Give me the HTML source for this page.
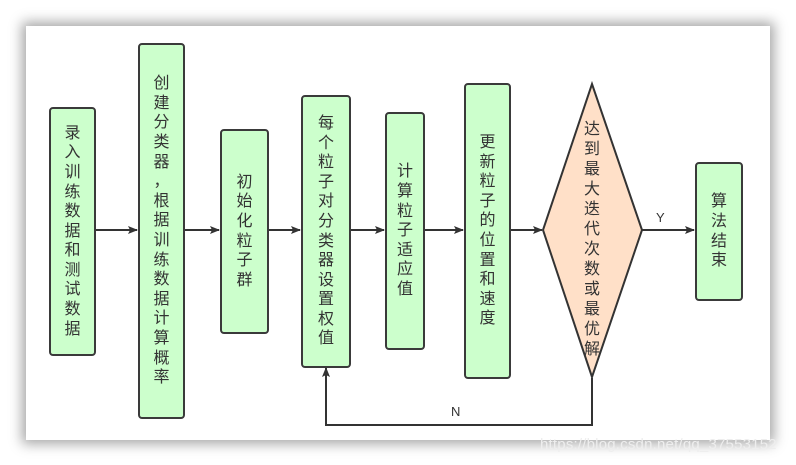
<!DOCTYPE html>
<html><head><meta charset="utf-8"><style>
html,body{margin:0;padding:0;background:#fff;}
body{width:796px;height:465px;position:relative;overflow:hidden;font-family:"Liberation Sans","Noto Sans CJK SC",sans-serif;}
.card{position:absolute;left:26px;top:26px;width:744px;height:414px;background:#fff;box-shadow:0 0 12px 4px rgba(0,0,0,0.35);}
.b{position:absolute;background:#ccffcc;border:2px solid #3a3a3a;border-radius:4px;box-sizing:border-box;display:flex;align-items:center;justify-content:center;}
.t{width:18px;font-size:16px;line-height:19.6px;color:#333;text-align:center;word-break:break-all;line-break:anywhere;}
svg{position:absolute;left:0;top:0;}
.wm{position:absolute;left:540px;top:436px;font-size:15px;color:#eee;letter-spacing:0.2px;}
</style></head><body>
<div class="card"></div>
<svg width="796" height="465">
<defs><marker id="a" markerWidth="10" markerHeight="8" refX="9" refY="4" orient="auto" markerUnits="userSpaceOnUse"><path d="M0,0 L10,4 L0,8 L2,4z" fill="#333"/></marker></defs>
<g stroke="#333" stroke-width="2" fill="none">
<line x1="95" y1="230" x2="137" y2="230" marker-end="url(#a)"/>
<line x1="185" y1="230" x2="219" y2="230" marker-end="url(#a)"/>
<line x1="269" y1="230" x2="300" y2="230" marker-end="url(#a)"/>
<line x1="351" y1="230" x2="384" y2="230" marker-end="url(#a)"/>
<line x1="425" y1="230" x2="463" y2="230" marker-end="url(#a)"/>
<line x1="511" y1="230" x2="542" y2="230" marker-end="url(#a)"/>
<line x1="642" y1="230" x2="694" y2="230" marker-end="url(#a)"/>
<polyline points="592,378 592,425 326,425 326,368" marker-end="url(#a)"/>
</g>
<polygon points="592,84 642,230 592,377 543,230" fill="#ffe0c8" stroke="#333" stroke-width="2"/>
<text x="592" y="0" font-size="16" fill="#333" text-anchor="middle" font-family="Liberation Sans,Noto Sans CJK SC,sans-serif">
<tspan x="592" y="134">达</tspan><tspan x="592" y="154">到</tspan><tspan x="592" y="174">最</tspan><tspan x="592" y="194">大</tspan><tspan x="592" y="214">迭</tspan><tspan x="592" y="234">代</tspan><tspan x="592" y="254">次</tspan><tspan x="592" y="274">数</tspan><tspan x="592" y="294">或</tspan><tspan x="592" y="314">最</tspan><tspan x="592" y="334">优</tspan><tspan x="592" y="354">解</tspan>
</text>
<text x="656" y="222" font-size="13" fill="#333">Y</text>
<text x="451" y="416" font-size="13" fill="#333">N</text>
</svg>
<div class="b" style="left:49px;top:107px;width:47px;height:249px"><div class="t">录入训练数据和测试数据</div></div>
<div class="b" style="left:138px;top:43px;width:47px;height:376px"><div class="t">创<br>建<br>分<br>类<br>器<br>，<br>根<br>据<br>训<br>练<br>数<br>据<br>计<br>算<br>概<br>率</div></div>
<div class="b" style="left:220px;top:129px;width:49px;height:205px"><div class="t">初始化粒子群</div></div>
<div class="b" style="left:301px;top:95px;width:50px;height:273px"><div class="t">每个粒子对分类器设置权值</div></div>
<div class="b" style="left:385px;top:112px;width:40px;height:238px"><div class="t">计算粒子适应值</div></div>
<div class="b" style="left:464px;top:83px;width:47px;height:296px"><div class="t">更新粒子的位置和速度</div></div>
<div class="b" style="left:695px;top:162px;width:48px;height:139px"><div class="t">算法结束</div></div>
<div class="wm">https://blog.csdn.net/qq_37553152</div>
</body></html>
